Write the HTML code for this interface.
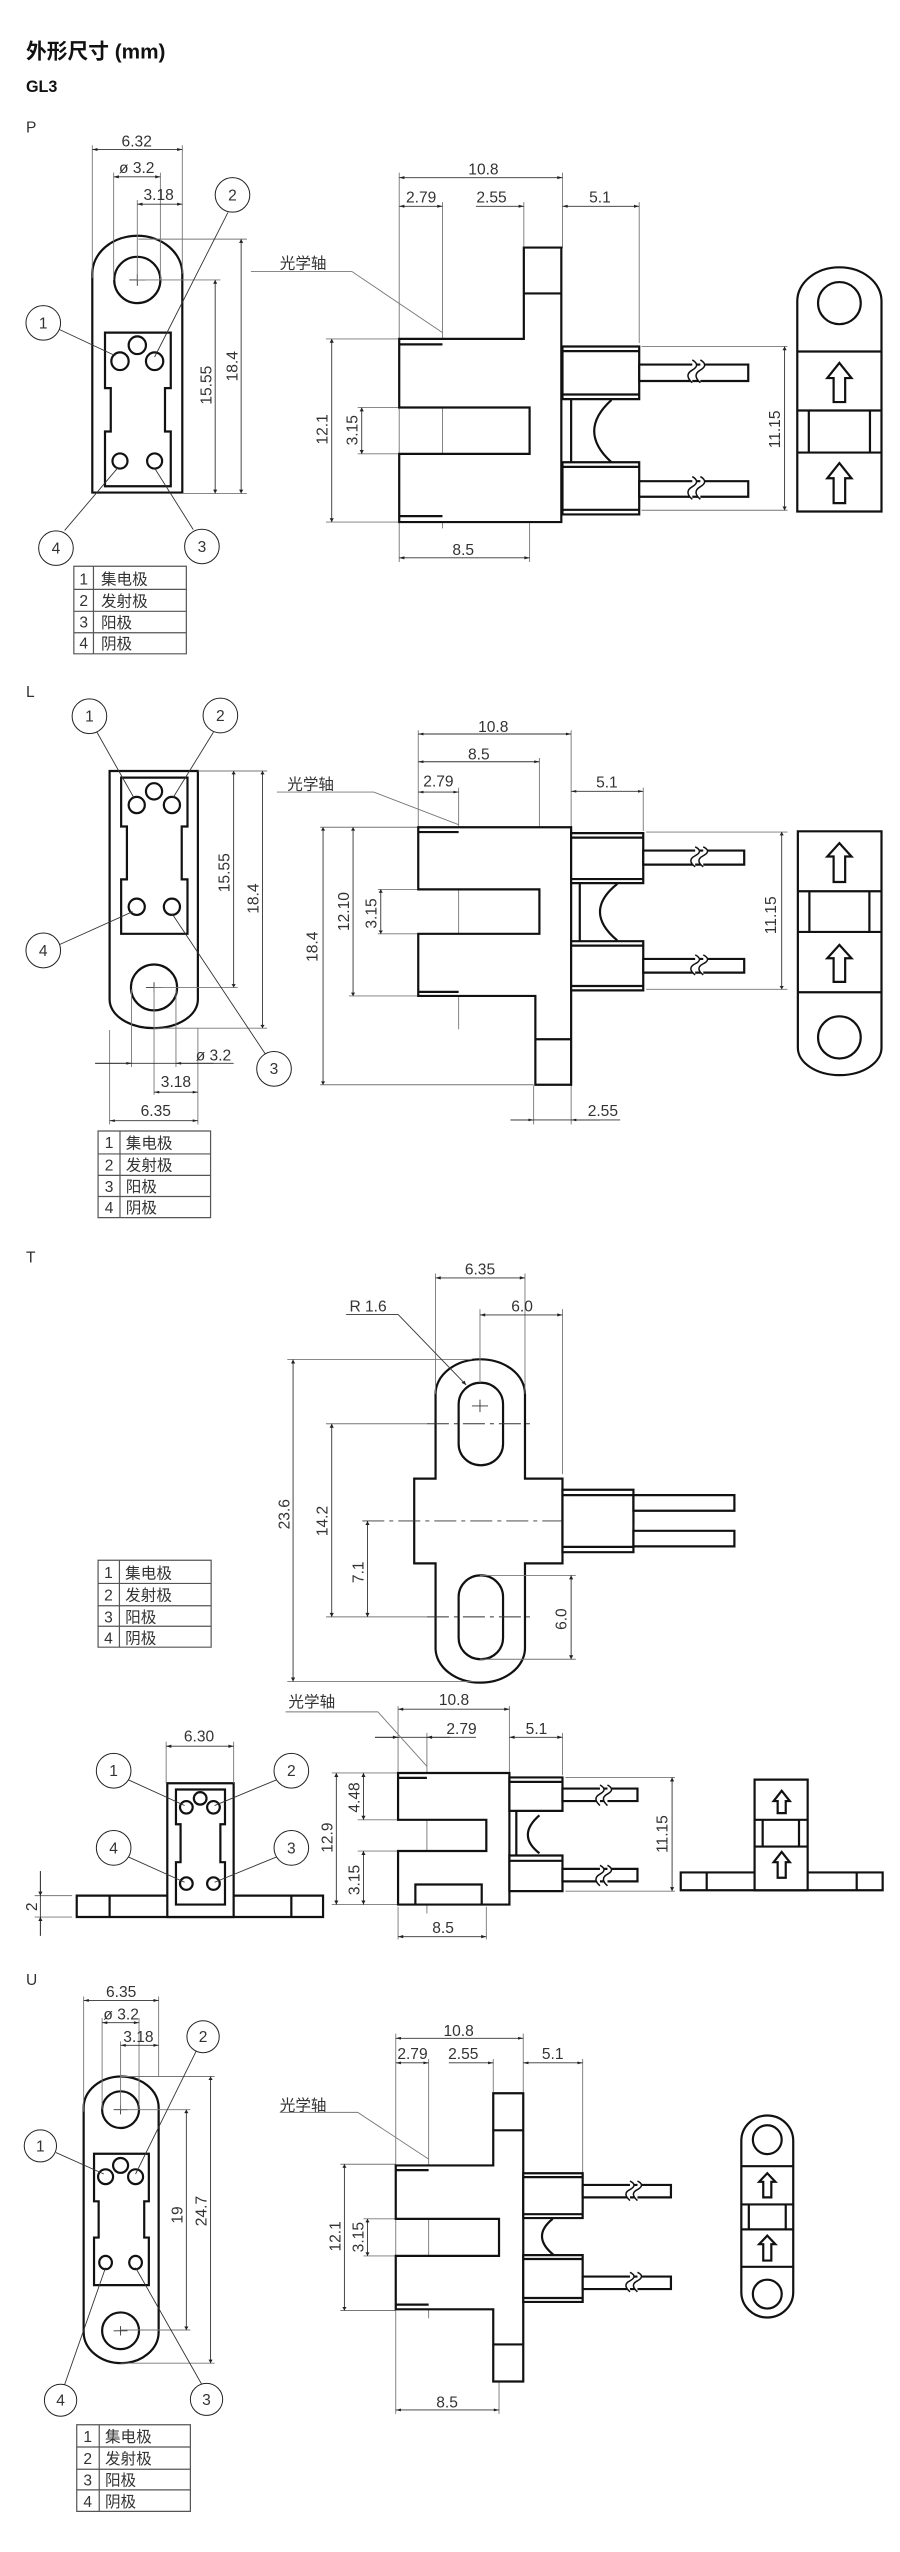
<!DOCTYPE html>
<html><head><meta charset="utf-8"><style>
html,body{margin:0;padding:0;background:#fff;width:900px;height:2552px;overflow:hidden}
svg{display:block}
path,line,ellipse,rect{vector-effect:non-scaling-stroke}
.o{stroke:#111;stroke-width:2.2;fill:none}
.f{stroke:#111;stroke-width:2.2;fill:#fff}
.t{stroke:#777;stroke-width:0.9;fill:none}
.k{stroke:#333;stroke-width:0.9;fill:none}
.d{stroke:#333;stroke-width:0.9;fill:none;marker-start:url(#a);marker-end:url(#a)}
.d1{stroke:#333;stroke-width:0.9;fill:none;marker-end:url(#a)}
.c{stroke:#333;stroke-width:0.9;fill:none;stroke-dasharray:22 5 4 5}
.w{stroke:#111;stroke-width:1.5;fill:#fff}
text{font-family:"Liberation Sans","Noto Sans CJK SC",sans-serif;font-size:27px;fill:#333;text-anchor:middle}
.cl{stroke:#222;stroke-width:1;fill:#fff}
.tb{stroke:#555;stroke-width:1.2;fill:none}
text.l{text-anchor:start}
text:not(.r){transform-box:fill-box;transform-origin:center}
.gP text:not(.r){transform:scaleY(1.37)}
.gL text:not(.r){transform:scaleY(1.56)}
.gT text:not(.r){transform:scaleY(1.29)}
.gU text:not(.r){transform:scaleY(1.48)}
</style></head><body>
<svg width="900" height="2552" viewBox="0 0 900 2552" xmlns="http://www.w3.org/2000/svg">
<defs>
<marker id="a" viewBox="0 0 10 10" refX="10" refY="5" markerWidth="18" markerHeight="9" markerUnits="userSpaceOnUse" orient="auto-start-reverse"><path d="M0,1 L10,5 L0,9 Z" fill="#222"/></marker>
</defs>

<!-- ============ P (k=1.37) ============ -->
<g class="gP" transform="translate(0,0) scale(0.5769,0.421)">
<text class="l" x="45" y="135" style="font-size:36px;font-weight:bold;fill:#111">外形尺寸 (mm)</text>
<text class="l" x="45" y="215" style="font-size:28px;font-weight:bold;fill:#111">GL3</text>
<text class="l" x="45" y="312">P</text>
<path class="o" d="M160,1170 L160,650 A78,90 0 0 1 316,650 L316,1170 Z"/>
<ellipse class="o" cx="238" cy="665" rx="40" ry="55"/>
<path class="k" d="M224,665 H252 M238,651 V679"/>
<path class="o" d="M182,790 H296 V922 H286 V1025 H296 V1155 H182 V1025 H192 V922 H182 Z"/>
<ellipse class="o" cx="208" cy="858" rx="15" ry="21"/><ellipse class="o" cx="238" cy="820" rx="15" ry="21"/><ellipse class="o" cx="268" cy="858" rx="15" ry="21"/>
<ellipse class="o" cx="208" cy="1095" rx="13" ry="18"/><ellipse class="o" cx="268" cy="1095" rx="13" ry="18"/>
<path class="t" d="M160,345 V660 M316,345 V650 M197,410 V665 M278,410 V665 M238,475 V665 M240,568 H428 M316,1172 H428 M238,665 H382"/>
<line class="d" x1="160" y1="355" x2="316" y2="355"/><text x="237" y="345">6.32</text>
<line class="d" x1="197" y1="420" x2="278" y2="420"/><text x="237" y="408">ø 3.2</text>
<line class="d" x1="238" y1="485" x2="316" y2="485"/><text x="275" y="472">3.18</text>
<line class="d" x1="418" y1="568" x2="418" y2="1172"/><text class="r" transform="translate(412,870) rotate(-90) scale(1.37,1)">18.4</text>
<line class="d" x1="373" y1="665" x2="373" y2="1172"/><text class="r" transform="translate(367,915) rotate(-90) scale(1.37,1)">15.55</text>
<path class="k" d="M102,782 L200,845 M395,505 L268,848 M112,1260 L205,1110 M335,1258 L268,1112"/>
<ellipse class="cl" cx="75" cy="767" rx="30" ry="41"/><text x="75" y="777">1</text>
<ellipse class="cl" cx="403" cy="463" rx="30" ry="41"/><text x="403" y="473">2</text>
<ellipse class="cl" cx="97" cy="1302" rx="30" ry="41"/><text x="97" y="1312">4</text>
<ellipse class="cl" cx="350" cy="1298" rx="30" ry="41"/><text x="350" y="1308">3</text>
<path class="tb" d="M128,1345 H323 V1553 H128 Z M128,1400 H323 M128,1452 H323 M128,1503 H323 M162,1345 V1553"/>
<text x="145" y="1385">1</text><text class="l" x="175" y="1385">集电极</text>
<text x="145" y="1437">2</text><text class="l" x="175" y="1437">发射极</text>
<text x="145" y="1488">3</text><text class="l" x="175" y="1488">阳极</text>
<text x="145" y="1538">4</text><text class="l" x="175" y="1538">阴极</text>
<path class="t" d="M692,410 V1335 M975,410 V590 M767,480 V1255 M908,480 V585 M1108,480 V815 M565,805 H692 M565,1240 H692 M620,968 H692 M620,1078 H692 M918,1078 V1335 M1112,823 H1365 M1112,1212 H1365"/>
<line class="d" x1="692" y1="422" x2="975" y2="422"/><text x="838" y="412">10.8</text>
<line class="d" x1="692" y1="490" x2="767" y2="490"/><text x="730" y="478">2.79</text>
<line class="d1" x1="825" y1="490" x2="908" y2="490"/><text x="852" y="478">2.55</text>
<line class="d" x1="975" y1="490" x2="1108" y2="490"/><text x="1040" y="478">5.1</text>
<path class="f" d="M692,805 H908 V588 H973 V1240 H692 V1078 H918 V968 H692 Z"/>
<path class="o" d="M908,697 H973 M692,818 H767 M692,1226 H767"/>
<path class="f" d="M975,823 H1108 V948 H975 Z"/><path class="o" d="M975,834 H1108 M975,937 H1108"/>
<path class="f" d="M1108,866 H1297 V905 H1108 Z"/>
<path class="f" d="M975,1098 H1108 V1222 H975 Z"/><path class="o" d="M975,1109 H1108 M975,1211 H1108"/>
<path class="f" d="M1108,1143 H1297 V1180 H1108 Z"/>
<path class="o" d="M990,948 V1098 M1060,950 Q1000,1024 1060,1098"/>
<path class="w" d="M1200,855 q15,12 0,24 q-15,12 0,30 M1214,855 q15,12 0,24 q-15,12 0,30"/>
<path class="w" d="M1200,1132 q15,12 0,24 q-15,12 0,30 M1214,1132 q15,12 0,24 q-15,12 0,30"/>
<line class="d" x1="575" y1="805" x2="575" y2="1240"/><text class="r" transform="translate(568,1020) rotate(-90) scale(1.37,1)">12.1</text>
<line class="d" x1="627" y1="968" x2="627" y2="1078"/><text class="r" transform="translate(620,1022) rotate(-90) scale(1.37,1)">3.15</text>
<line class="d" x1="692" y1="1325" x2="918" y2="1325"/><text x="803" y="1315">8.5</text>
<line class="d" x1="1360" y1="823" x2="1360" y2="1212"/><text class="r" transform="translate(1352,1020) rotate(-90) scale(1.37,1)">11.15</text>
<text class="l" x="485" y="635">光学轴</text>
<path class="t" d="M435,645 H610 L767,790"/>
<path class="o" d="M1382,1215 V715 A73,80 0 0 1 1528,715 V1215 Z M1382,835 H1528 M1382,975 H1528 M1382,1075 H1528 M1402,975 V1075 M1508,975 V1075"/>
<ellipse class="o" cx="1455" cy="720" rx="37" ry="50"/>
<path class="o" d="M1455,862 L1476,898 H1465 V955 H1445 V898 H1434 Z"/>
<path class="o" d="M1455,1100 L1476,1136 H1465 V1195 H1445 V1136 H1434 Z"/>
</g>

<!-- ============ L (k=1.56) ============ -->
<g class="gL" transform="translate(0,660) scale(0.5769,0.370)">
<text class="l" x="45" y="95">L</text>
<path class="o" d="M190,300 H343 V918 A76.5,77 0 0 1 190,918 Z"/>
<ellipse class="o" cx="267" cy="885" rx="40" ry="62"/>
<path class="k" d="M253,885 H281 M267,871 V899"/>
<path class="o" d="M210,318 H325 V450 H315 V593 H325 V740 H210 V593 H220 V450 H210 Z"/>
<ellipse class="o" cx="237" cy="392" rx="14" ry="22"/><ellipse class="o" cx="267" cy="355" rx="14" ry="22"/><ellipse class="o" cx="298" cy="392" rx="14" ry="22"/>
<ellipse class="o" cx="237" cy="667" rx="14" ry="22"/><ellipse class="o" cx="298" cy="667" rx="14" ry="22"/>
<path class="t" d="M343,300 H463 M267,995 H463 M267,885 H412 M190,1000 V1255 M228,890 V1100 M305,890 V1100 M267,885 V1175 M343,995 V1255"/>
<line class="d" x1="455" y1="300" x2="455" y2="995"/><text class="r" transform="translate(448,645) rotate(-90) scale(1.56,1)">18.4</text>
<line class="d" x1="405" y1="300" x2="405" y2="885"/><text class="r" transform="translate(398,575) rotate(-90) scale(1.56,1)">15.55</text>
<line class="k" x1="165" y1="1090" x2="405" y2="1090"/>
<line class="d1" x1="165" y1="1090" x2="228" y2="1090"/><line class="d1" x1="370" y1="1090" x2="305" y2="1090"/><text x="370" y="1078">ø 3.2</text>
<line class="d" x1="267" y1="1168" x2="343" y2="1168"/><text x="305" y="1150">3.18</text>
<line class="d" x1="190" y1="1245" x2="343" y2="1245"/><text x="270" y="1228">6.35</text>
<path class="k" d="M168,195 L232,372 M370,195 L300,372 M102,770 L230,680 M460,1065 L298,685"/>
<ellipse class="cl" cx="155" cy="152" rx="30" ry="47"/><text x="155" y="162">1</text>
<ellipse class="cl" cx="382" cy="150" rx="30" ry="47"/><text x="382" y="160">2</text>
<ellipse class="cl" cx="75" cy="785" rx="30" ry="47"/><text x="75" y="795">4</text>
<ellipse class="cl" cx="475" cy="1105" rx="30" ry="47"/><text x="475" y="1115">3</text>
<path class="tb" d="M170,1273 H365 V1507 H170 Z M170,1335 H365 M170,1393 H365 M170,1450 H365 M208,1273 V1507"/>
<text x="189" y="1315">1</text><text class="l" x="218" y="1315">集电极</text>
<text x="189" y="1375">2</text><text class="l" x="218" y="1375">发射极</text>
<text x="189" y="1433">3</text><text class="l" x="218" y="1433">阳极</text>
<text x="189" y="1490">4</text><text class="l" x="218" y="1490">阴极</text>
<path class="t" d="M725,190 V452 M990,190 V452 M935,265 V620 M795,345 V998 M1115,345 V462 M555,452 H725 M555,1148 H925 M605,908 H725 M655,620 H725 M655,740 H725 M1120,465 H1365 M1120,890 H1365 M925,1150 V1255 M990,1150 V1255"/>
<line class="d" x1="725" y1="200" x2="990" y2="200"/><text x="855" y="190">10.8</text>
<line class="d" x1="725" y1="275" x2="935" y2="275"/><text x="830" y="265">8.5</text>
<line class="d" x1="725" y1="357" x2="795" y2="357"/><text x="760" y="338">2.79</text>
<line class="d" x1="990" y1="355" x2="1115" y2="355"/><text x="1052" y="340">5.1</text>
<text class="l" x="498" y="345">光学轴</text>
<path class="t" d="M480,357 H648 L795,445"/>
<path class="f" d="M725,452 H990 V1148 H928 V908 H725 V740 H935 V620 H725 Z"/>
<path class="o" d="M725,465 H795 M725,897 H795 M928,1025 H990"/>
<path class="f" d="M990,468 H1115 V603 H990 Z"/><path class="o" d="M990,480 H1115 M990,592 H1115"/>
<path class="f" d="M1115,515 H1290 V553 H1115 Z"/>
<path class="f" d="M990,760 H1115 V893 H990 Z"/><path class="o" d="M990,772 H1115 M990,881 H1115"/>
<path class="f" d="M1115,808 H1290 V845 H1115 Z"/>
<path class="o" d="M1005,603 V760 M1070,605 Q1010,680 1070,758"/>
<path class="w" d="M1205,505 q15,12 0,24 q-15,12 0,30 M1219,505 q15,12 0,24 q-15,12 0,30"/>
<path class="w" d="M1205,797 q15,12 0,24 q-15,12 0,30 M1219,797 q15,12 0,24 q-15,12 0,30"/>
<line class="d" x1="1355" y1="465" x2="1355" y2="890"/><text class="r" transform="translate(1345,690) rotate(-90) scale(1.56,1)">11.15</text>
<line class="d" x1="560" y1="452" x2="560" y2="1148"/><text class="r" transform="translate(550,775) rotate(-90) scale(1.56,1)">18.4</text>
<line class="d" x1="612" y1="452" x2="612" y2="908"/><text class="r" transform="translate(605,680) rotate(-90) scale(1.56,1)">12.10</text>
<line class="d" x1="660" y1="620" x2="660" y2="740"/><text class="r" transform="translate(653,685) rotate(-90) scale(1.56,1)">3.15</text>
<line class="k" x1="885" y1="1243" x2="1075" y2="1243"/>
<line class="d1" x1="885" y1="1243" x2="925" y2="1243"/><line class="d1" x1="1040" y1="1243" x2="990" y2="1243"/><text x="1045" y="1228">2.55</text>
<path class="o" d="M1383,463 H1528 V1048 A72.5,74 0 0 1 1383,1048 Z M1383,625 H1528 M1383,735 H1528 M1383,898 H1528 M1403,625 V735 M1507,625 V735"/>
<ellipse class="o" cx="1455" cy="1020" rx="37" ry="57"/>
<path class="o" d="M1455,495 L1476,531 H1465 V600 H1445 V531 H1434 Z"/>
<path class="o" d="M1455,770 L1476,806 H1465 V870 H1445 V806 H1434 Z"/>
</g>

<!-- ============ T (k=1.29) ============ -->
<g class="gT" transform="translate(0,1240) scale(0.5769,0.446)">
<text class="l" x="45" y="48">T</text>
<path class="f" d="M755,345 A77.5,77.5 0 0 1 910,345 V535 H975 V725 H910 V915 A77.5,77.5 0 0 1 755,915 V725 H718 V535 H755 Z"/>
<rect class="o" x="795" y="320" width="77" height="185" rx="38" ry="48"/>
<rect class="o" x="795" y="752" width="77" height="188" rx="38" ry="48"/>
<path class="k" d="M818,372 H846 M832,358 V386"/>
<line class="c" x1="628" y1="630" x2="1100" y2="630"/>
<line class="c" x1="740" y1="412" x2="920" y2="412"/>
<line class="c" x1="740" y1="845" x2="920" y2="845"/>
<path class="f" d="M975,560 H1098 V700 H975 Z"/><path class="o" d="M975,572 H1098 M975,688 H1098"/>
<path class="f" d="M1098,572 H1273 V607 H1098 Z"/><path class="f" d="M1098,652 H1273 V687 H1098 Z"/>
<path class="t" d="M755,75 V345 M910,75 V345 M832,155 V320 M975,155 V525 M498,268 H818 M498,990 H835 M565,412 H740 M565,845 H740 M832,752 H998 M832,940 H998"/>
<line class="d" x1="755" y1="85" x2="910" y2="85"/><text x="832" y="75">6.35</text>
<line class="d" x1="832" y1="168" x2="975" y2="168"/><text x="905" y="158">6.0</text>
<text x="638" y="158">R 1.6</text>
<path class="k" d="M600,167 H690"/><line class="d1" x1="690" y1="167" x2="808" y2="325"/>
<line class="d" x1="508" y1="268" x2="508" y2="990"/><text class="r" transform="translate(502,615) rotate(-90) scale(1.29,1)">23.6</text>
<line class="d" x1="575" y1="412" x2="575" y2="845"/><text class="r" transform="translate(568,630) rotate(-90) scale(1.29,1)">14.2</text>
<line class="d" x1="637" y1="630" x2="637" y2="845"/><text class="r" transform="translate(630,745) rotate(-90) scale(1.29,1)">7.1</text>
<line class="d" x1="990" y1="752" x2="990" y2="940"/><text class="r" transform="translate(982,850) rotate(-90) scale(1.29,1)">6.0</text>
<path class="tb" d="M170,718 H366 V913 H170 Z M170,770 H366 M170,820 H366 M170,866 H366 M207,718 V913"/>
<text x="188" y="756">1</text><text class="l" x="217" y="756">集电极</text>
<text x="188" y="806">2</text><text class="l" x="217" y="806">发射极</text>
<text x="188" y="855">3</text><text class="l" x="217" y="855">阳极</text>
<text x="188" y="902">4</text><text class="l" x="217" y="902">阴极</text>
<path class="o" d="M133,1470 H560 V1518 H133 Z M190,1470 V1518 M505,1470 V1518"/>
<path class="f" d="M290,1218 H405 V1518 H290 Z"/>
<path class="o" d="M305,1232 H390 V1310 H382 V1395 H390 V1490 H305 V1395 H313 V1310 H305 Z"/>
<ellipse class="o" cx="323" cy="1272" rx="11" ry="14"/><ellipse class="o" cx="347" cy="1252" rx="11" ry="14"/><ellipse class="o" cx="370" cy="1272" rx="11" ry="14"/>
<ellipse class="o" cx="323" cy="1443" rx="11" ry="14"/><ellipse class="o" cx="370" cy="1443" rx="11" ry="14"/>
<path class="t" d="M288,1125 V1218 M405,1125 V1218 M60,1470 H125 M60,1518 H125"/>
<line class="d" x1="288" y1="1135" x2="405" y2="1135"/><text x="345" y="1122">6.30</text>
<line class="k" x1="70" y1="1415" x2="70" y2="1560"/>
<line class="d1" x1="70" y1="1415" x2="70" y2="1470"/><line class="d1" x1="70" y1="1560" x2="70" y2="1518"/>
<text class="r" transform="translate(64,1495) rotate(-90) scale(1.29,1)">2</text>
<path class="k" d="M222,1210 L320,1268 M480,1210 L372,1268 M222,1383 L320,1440 M480,1383 L372,1440"/>
<ellipse class="cl" cx="197" cy="1190" rx="30" ry="39"/><text x="197" y="1200">1</text>
<ellipse class="cl" cx="505" cy="1190" rx="30" ry="39"/><text x="505" y="1200">2</text>
<ellipse class="cl" cx="197" cy="1363" rx="30" ry="39"/><text x="197" y="1373">4</text>
<ellipse class="cl" cx="505" cy="1363" rx="30" ry="39"/><text x="505" y="1373">3</text>
<path class="t" d="M690,1045 V1195 M883,1045 V1195 M740,1105 V1510 M975,1105 V1200 M575,1195 H690 M575,1490 H690 M620,1300 H690 M620,1370 H690 M980,1205 H1170 M980,1460 H1170 M843,1495 V1568 M690,1495 V1568"/>
<line class="d" x1="690" y1="1052" x2="883" y2="1052"/><text x="787" y="1040">10.8</text>
<line class="k" x1="650" y1="1115" x2="825" y2="1115"/>
<line class="d1" x1="650" y1="1115" x2="690" y2="1115"/><line class="d1" x1="780" y1="1115" x2="740" y2="1115"/><text x="800" y="1105">2.79</text>
<line class="d" x1="883" y1="1115" x2="975" y2="1115"/><text x="930" y="1105">5.1</text>
<text class="l" x="500" y="1045">光学轴</text>
<path class="t" d="M495,1058 H655 L740,1180"/>
<path class="f" d="M690,1195 H883 V1490 H690 V1370 H843 V1300 H690 Z"/>
<path class="o" d="M690,1206 H740 M720,1490 V1445 H835 V1490"/>
<path class="f" d="M883,1205 H975 V1280 H883 Z"/><path class="o" d="M883,1215 H975"/>
<path class="f" d="M975,1230 H1105 V1258 H975 Z"/>
<path class="f" d="M883,1380 H975 V1460 H883 Z"/><path class="o" d="M883,1392 H975"/>
<path class="f" d="M975,1410 H1105 V1438 H975 Z"/>
<path class="o" d="M895,1280 V1380 M935,1290 Q895,1335 935,1375"/>
<path class="w" d="M1040,1222 q14,10 0,20 q-14,10 0,26 M1053,1222 q14,10 0,20 q-14,10 0,26"/>
<path class="w" d="M1040,1402 q14,10 0,20 q-14,10 0,26 M1053,1402 q14,10 0,20 q-14,10 0,26"/>
<line class="d" x1="583" y1="1195" x2="583" y2="1490"/><text class="r" transform="translate(576,1340) rotate(-90) scale(1.29,1)">12.9</text>
<line class="d" x1="630" y1="1195" x2="630" y2="1300"/><text class="r" transform="translate(623,1250) rotate(-90) scale(1.29,1)">4.48</text>
<line class="d" x1="630" y1="1370" x2="630" y2="1490"/><text class="r" transform="translate(623,1435) rotate(-90) scale(1.29,1)">3.15</text>
<line class="d" x1="1165" y1="1205" x2="1165" y2="1460"/><text class="r" transform="translate(1157,1332) rotate(-90) scale(1.29,1)">11.15</text>
<line class="d" x1="690" y1="1562" x2="843" y2="1562"/><text x="768" y="1552">8.5</text>
<path class="o" d="M1180,1418 H1530 V1458 H1180 Z M1225,1418 V1458 M1485,1418 V1458"/>
<path class="f" d="M1308,1210 H1400 V1458 H1308 Z"/>
<path class="o" d="M1308,1300 H1400 M1308,1360 H1400 M1322,1300 V1360 M1385,1300 V1360"/>
<path class="o" d="M1355,1235 L1369,1258 H1362 V1285 H1348 V1258 H1341 Z"/>
<path class="o" d="M1355,1372 L1369,1395 H1362 V1430 H1348 V1395 H1341 Z"/>
</g>

<!-- ============ U (k=1.48) ============ -->
<g class="gU" transform="translate(0,1940) scale(0.5769,0.390)">
<text class="l" x="45" y="112">U</text>
<path class="o" d="M145,430 A65,80 0 0 1 275,430 V1005 A65,80 0 0 1 145,1005 Z"/>
<ellipse class="o" cx="209" cy="435" rx="32" ry="47"/><ellipse class="o" cx="209" cy="1002" rx="32" ry="47"/>
<path class="k" d="M197,435 H221 M209,423 V447 M197,1002 H221 M209,990 V1014"/>
<path class="o" d="M163,548 H258 V670 H250 V763 H258 V885 H163 V763 H171 V670 H163 Z"/>
<ellipse class="o" cx="183" cy="607" rx="13" ry="19"/><ellipse class="o" cx="209" cy="578" rx="13" ry="19"/><ellipse class="o" cx="235" cy="607" rx="13" ry="19"/>
<ellipse class="o" cx="183" cy="827" rx="11" ry="17"/><ellipse class="o" cx="235" cy="827" rx="11" ry="17"/>
<path class="t" d="M145,145 V440 M275,145 V350 M177,200 V435 M241,200 V435 M209,260 V435 M209,350 H372 M209,1085 H372 M209,435 H330 M209,1000 H330"/>
<line class="d" x1="145" y1="155" x2="275" y2="155"/><text x="210" y="143">6.35</text>
<line class="d" x1="177" y1="212" x2="241" y2="212"/><text x="210" y="200">ø 3.2</text>
<line class="d" x1="209" y1="270" x2="275" y2="270"/><text x="240" y="258">3.18</text>
<line class="d" x1="365" y1="350" x2="365" y2="1085"/><text class="r" transform="translate(358,695) rotate(-90) scale(1.48,1)">24.7</text>
<line class="d" x1="323" y1="435" x2="323" y2="1000"/><text class="r" transform="translate(316,705) rotate(-90) scale(1.48,1)">19</text>
<path class="k" d="M340,285 L235,600 M97,545 L180,600 M112,1140 L183,840 M350,1140 L235,840"/>
<ellipse class="cl" cx="352" cy="248" rx="28" ry="41"/><text x="352" y="258">2</text>
<ellipse class="cl" cx="70" cy="528" rx="28" ry="41"/><text x="70" y="538">1</text>
<ellipse class="cl" cx="105" cy="1180" rx="28" ry="41"/><text x="105" y="1190">4</text>
<ellipse class="cl" cx="358" cy="1178" rx="28" ry="41"/><text x="358" y="1188">3</text>
<path class="tb" d="M133,1243 H330 V1465 H133 Z M133,1300 H330 M133,1357 H330 M133,1410 H330 M172,1243 V1465"/>
<text x="152" y="1283">1</text><text class="l" x="182" y="1283">集电极</text>
<text x="152" y="1340">2</text><text class="l" x="182" y="1340">发射极</text>
<text x="152" y="1395">3</text><text class="l" x="182" y="1395">阳极</text>
<text x="152" y="1450">4</text><text class="l" x="182" y="1450">阴极</text>
<path class="t" d="M686,240 V1215 M907,240 V390 M855,305 V390 M743,305 V970 M1010,305 V598 M590,575 H686 M590,950 H686 M630,715 H686 M630,810 H686 M865,947 V1215"/>
<line class="d" x1="686" y1="252" x2="907" y2="252"/><text x="795" y="243">10.8</text>
<line class="d" x1="686" y1="315" x2="743" y2="315"/><text x="715" y="302">2.79</text>
<line class="d1" x1="778" y1="315" x2="855" y2="315"/><text x="803" y="302">2.55</text>
<line class="d" x1="907" y1="315" x2="1010" y2="315"/><text x="958" y="302">5.1</text>
<text class="l" x="485" y="433">光学轴</text>
<path class="t" d="M485,442 H620 L743,562"/>
<path class="f" d="M686,578 H855 V393 H907 V1132 H855 V947 H686 V810 H865 V715 H686 Z"/>
<path class="o" d="M855,488 H907 M855,1037 H907 M686,590 H743 M686,935 H743"/>
<path class="f" d="M907,598 H1010 V713 H907 Z"/><path class="o" d="M907,608 H1010 M907,703 H1010"/>
<path class="f" d="M1010,628 H1163 V660 H1010 Z"/>
<path class="f" d="M907,808 H1010 V928 H907 Z"/><path class="o" d="M907,818 H1010 M907,918 H1010"/>
<path class="f" d="M1010,863 H1163 V895 H1010 Z"/>
<path class="o" d="M958,715 Q920,760 960,808"/>
<path class="w" d="M1092,618 q14,10 0,22 q-14,10 0,28 M1105,618 q14,10 0,22 q-14,10 0,28"/>
<path class="w" d="M1092,852 q14,10 0,22 q-14,10 0,28 M1105,852 q14,10 0,22 q-14,10 0,28"/>
<line class="d" x1="597" y1="575" x2="597" y2="950"/><text class="r" transform="translate(590,760) rotate(-90) scale(1.48,1)">12.1</text>
<line class="d" x1="637" y1="715" x2="637" y2="810"/><text class="r" transform="translate(630,762) rotate(-90) scale(1.48,1)">3.15</text>
<line class="d" x1="686" y1="1205" x2="865" y2="1205"/><text x="775" y="1195">8.5</text>
<path class="o" d="M1285,515 A45,65 0 0 1 1375,515 V903 A45,65 0 0 1 1285,903 Z"/>
<ellipse class="o" cx="1330" cy="512" rx="25" ry="37"/><ellipse class="o" cx="1330" cy="908" rx="25" ry="37"/>
<path class="o" d="M1285,580 H1375 M1285,678 H1375 M1285,742 H1375 M1285,838 H1375 M1298,678 V742 M1362,678 V742"/>
<path class="o" d="M1330,598 L1344,620 H1337 V660 H1323 V620 H1316 Z"/>
<path class="o" d="M1330,758 L1344,780 H1337 V822 H1323 V780 H1316 Z"/>
</g>
</svg>
</body></html>
